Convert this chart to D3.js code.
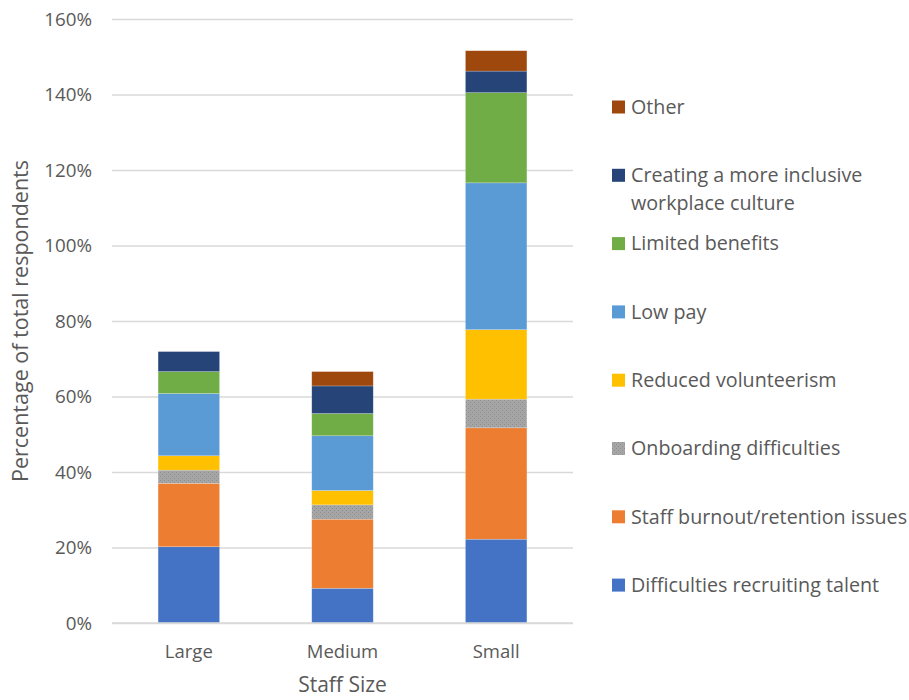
<!DOCTYPE html>
<html>
<head>
<meta charset="utf-8">
<script src="https://cdn.jsdelivr.net/npm/d3@7"></script>
<style>
  body { margin: 0; background: #fff; }
  svg { display: block; }
  text { font-family: "Open Sans", "Noto Sans", sans-serif; fill: #595959; }
</style>
</head>
<body>
<svg id="chart" width="909" height="700"></svg>
<script>
// ---- Data ----
const categories = ["Large", "Medium", "Small"];
const seriesNames = [
  "Difficulties recruiting talent",
  "Staff burnout/retention issues",
  "Onboarding difficulties",
  "Reduced volunteerism",
  "Low pay",
  "Limited benefits",
  "Creating a more inclusive workplace culture",
  "Other"
];
const difficultiesRecruiting = [0.202, 0.092, 0.222];
const staffBurnout          = [0.168, 0.183, 0.295];
const onboarding            = [0.035, 0.038, 0.076];
const reducedVolunteerism   = [0.038, 0.038, 0.184];
const lowPay                = [0.165, 0.145, 0.389];
const limitedBenefits       = [0.058, 0.059, 0.239];
const inclusiveCulture      = [0.053, 0.073, 0.057];
const other                 = [0.000, 0.038, 0.054];
const yTicks = [0, 0.2, 0.4, 0.6, 0.8, 1.0, 1.2, 1.4, 1.6];
const xTitle = "Staff Size";
const yTitle = "Percentage of total respondents";

const seriesValues = [difficultiesRecruiting, staffBurnout, onboarding, reducedVolunteerism,
                      lowPay, limitedBenefits, inclusiveCulture, other];
const colors = ["#4472C4", "#ED7D31", "#A5A5A5", "#FFC000", "#5B9BD5", "#70AD47", "#264478", "#9E480E"];

// table for stack
const table = categories.map((c, i) => {
  const row = { cat: c };
  seriesNames.forEach((s, j) => row[s] = seriesValues[j][i]);
  return row;
});

const svg = d3.select("#chart");
const plot = { left: 112, right: 573, top: 19, bottom: 623 };

const x = d3.scaleBand().domain(categories).range([plot.left, plot.right])
  .paddingInner(0.6).paddingOuter(0.3);
const y = d3.scaleLinear().domain([0, 1.6]).range([plot.bottom, plot.top]);

// pattern for onboarding
const defs = svg.append("defs");
const pat = defs.append("pattern").attr("id", "grayPat").attr("patternUnits", "userSpaceOnUse")
  .attr("width", 4).attr("height", 4);
pat.append("rect").attr("width", 4).attr("height", 4).attr("fill", "#A5A5A5");
pat.append("rect").attr("x", 0).attr("y", 0).attr("width", 1).attr("height", 1).attr("fill", "#8f8f8f");
pat.append("rect").attr("x", 2).attr("y", 2).attr("width", 1).attr("height", 1).attr("fill", "#8f8f8f");
const fillFor = (i) => i === 2 ? "url(#grayPat)" : colors[i];

// gridlines + y axis
const yAxis = d3.axisLeft(y).tickValues(yTicks).tickFormat(d3.format(".0%"))
  .tickSize(-(plot.right - plot.left)).tickPadding(20);
const gy = svg.append("g").attr("transform", `translate(${plot.left},0)`).call(yAxis);
gy.select(".domain").remove();
gy.selectAll(".tick line").attr("stroke", "#D9D9D9").attr("stroke-width", 1.3);
gy.selectAll(".tick text").style("font-size", "18.8px").attr("fill", "#595959");

// bars
const stack = d3.stack().keys(seriesNames)(table);
svg.append("g").selectAll("g").data(stack).join("g")
  .attr("fill", (d, i) => fillFor(i))
  .selectAll("rect").data(d => d).join("rect")
  .attr("x", d => x(d.data.cat))
  .attr("width", x.bandwidth())
  .attr("y", d => y(d[1]))
  .attr("height", d => Math.max(0, y(d[0]) - y(d[1])))
  .attr("stroke", "#ffffff").attr("stroke-opacity", 0.35).attr("stroke-width", 0.6);

// x axis
const xAxis = d3.axisBottom(x).tickSize(0).tickPadding(22);
const gx = svg.append("g").attr("transform", `translate(0,${plot.bottom})`).call(xAxis);
gx.select(".domain").attr("stroke", "#D9D9D9").attr("stroke-width", 1.3)
  .attr("d", `M${plot.left},0H${plot.right}`);
gx.selectAll(".tick text").style("font-size", "18.5px").attr("fill", "#595959");

// axis titles
svg.append("text").attr("x", (plot.left + plot.right) / 2).attr("y", 692)
  .attr("text-anchor", "middle").style("font-size", "21px").text(xTitle);
svg.append("text").attr("transform", `translate(28,${(plot.top + plot.bottom) / 2}) rotate(-90)`)
  .attr("text-anchor", "middle").style("font-size", "21.5px").text(yTitle);

// legend
const legendItems = seriesNames.map((s, i) => ({ name: s, i })).reverse();
const legend = svg.append("g");
const lx = 612, ly0 = 107, lstep = 68.3, maxW = 285;
legendItems.forEach((d, k) => {
  const cy = ly0 + k * lstep;
  const g = legend.append("g");
  g.append("rect").attr("x", lx).attr("y", cy - 6.5).attr("width", 13).attr("height", 13)
    .attr("fill", fillFor(d.i));
  const t = g.append("text").attr("x", lx + 19).attr("y", cy).attr("dy", "0.35em")
    .style("font-size", "19.7px");
  // simple word wrap
  const words = d.name.split(" ");
  let line = [], tspan = t.append("tspan").attr("x", lx + 19);
  words.forEach(w => {
    line.push(w);
    tspan.text(line.join(" "));
    if (tspan.node().getComputedTextLength() > maxW && line.length > 1) {
      line.pop();
      tspan.text(line.join(" "));
      line = [w];
      tspan = t.append("tspan").attr("x", lx + 19).attr("dy", "1.42em").text(w);
    }
  });
});
</script>
</body>
</html>
